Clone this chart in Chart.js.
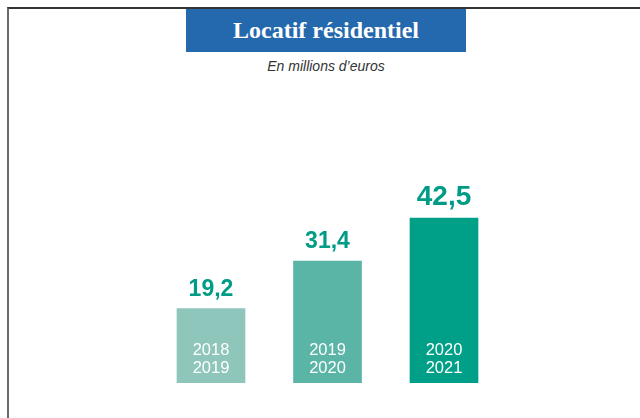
<!DOCTYPE html>
<html lang="fr">
<head>
<meta charset="utf-8">
<script src="https://cdn.jsdelivr.net/npm/chart.js@4.4.1/dist/chart.umd.min.js"></script>
<style>
  body { margin: 0; background: #fff; }
  #wrap { position: relative; width: 640px; height: 418px; overflow: hidden; }
  #frame {
    position: absolute; left: 7px; top: 7px; width: 640px; height: 420px;
    border-top: 2px solid #333; border-left: 2px solid #6a6a6a;
  }
  #title {
    position: absolute; left: 186px; top: 9px; width: 280px; height: 43px;
    background: #2469ad; color: #fff; text-align: center;
    font: bold 24px "Liberation Serif", "DejaVu Serif", serif; line-height: 43px;
  }
  #subtitle {
    position: absolute; left: 186px; top: 58px; width: 280px; text-align: center;
    font: italic 14px "Liberation Sans", Arial, sans-serif; color: #333;
  }
  #chart { position: absolute; left: 0; top: 0; }
</style>
</head>
<body>
<div id="wrap">
  <div id="frame"></div>
  <div id="title">Locatif résidentiel</div>
  <div id="subtitle">En millions d’euros</div>
  <canvas id="chart" width="640" height="418"></canvas>
</div>
<script>
// data
const periods = [['2018', '2019'], ['2019', '2020'], ['2020', '2021']];
const amounts = [19.2, 31.4, 42.5];
const barColors = ['#8ec6bb', '#5ab5a6', '#00a088'];

// value on top of each bar + years inside it
const barLabels = {
    id: 'barLabels',
    afterDatasetsDraw(chart) {
        const ctx = chart.ctx;
        const meta = chart.getDatasetMeta(0);
        const bottom = chart.scales.y.getPixelForValue(0);
        ctx.save();
        ctx.textAlign = 'center';
        ctx.textBaseline = 'alphabetic';
        meta.data.forEach((bar, i) => {
            const size = i === amounts.length - 1 ? 28 : 23;
            ctx.fillStyle = '#009c85';
            ctx.font = 'bold ' + size + 'px "Liberation Sans", Arial, sans-serif';
            ctx.fillText(amounts[i].toFixed(1).replace('.', ','), bar.x, bar.y - 13);

            ctx.fillStyle = '#fff';
            ctx.font = '16.5px "Liberation Sans", Arial, sans-serif';
            ctx.fillText(periods[i][0], bar.x, bottom - 28);
            ctx.fillText(periods[i][1], bar.x, bottom - 10);
        });
        ctx.restore();
    }
};

new Chart(document.getElementById('chart'), {
    type: 'bar',
    data: {
        labels: periods.map(p => p.join('-')),
        datasets: [{
            data: amounts,
            backgroundColor: barColors,
            borderWidth: 0,
            barThickness: 68
        }]
    },
    options: {
        responsive: false,
        animation: false,
        devicePixelRatio: 1,
        layout: { padding: { top: 189, bottom: 35, left: 152.75, right: 137.75 } },
        plugins: { legend: { display: false }, tooltip: { enabled: false } },
        scales: {
            x: { display: false },
            y: { display: false, min: 0, max: 50 }
        }
    },
    plugins: [barLabels]
});
</script>
</body>
</html>
